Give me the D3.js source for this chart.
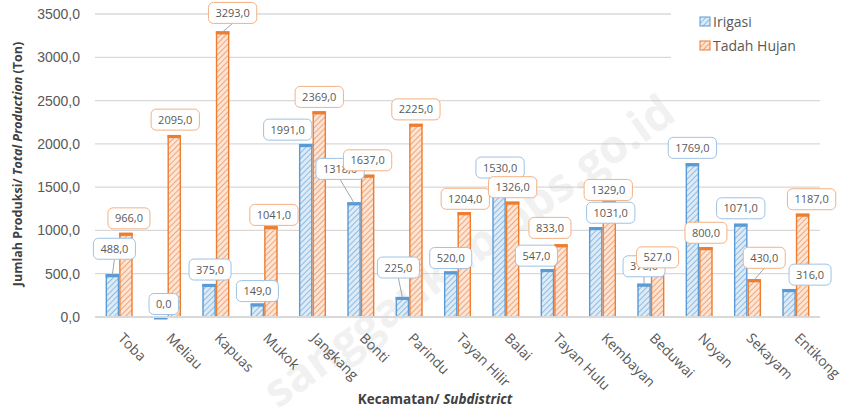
<!DOCTYPE html>
<html>
<head>
<meta charset="utf-8">
<script src="https://cdn.jsdelivr.net/npm/d3@7"></script>
<style>
  body { margin: 0; background: #fff; }
  svg { display: block; font-family: "Open Sans", sans-serif; }
</style>
</head>
<body>
<div id="chart"></div>
<script>
const categories = ["Toba", "Meliau", "Kapuas", "Mukok", "Jangkang", "Bonti", "Parindu",
  "Tayan Hilir", "Balai", "Tayan Hulu", "Kembayan", "Beduwai", "Noyan", "Sekayam", "Entikong"];
const irigasi = [488, 0, 375, 149, 1991, 1318, 225, 520, 1530, 547, 1031, 378, 1769, 1071, 316];
const tadahHujan = [966, 2095, 3293, 1041, 2369, 1637, 2225, 1204, 1326, 833, 1329, 527, 800, 430, 1187];
const seriesNames = ["Irigasi", "Tadah Hujan"];
const yTicks = [0, 500, 1000, 1500, 2000, 2500, 3000, 3500];

// callout nudges (dx, dy from the bar top), like the hand-placed Excel labels
const nudgeIrigasi = [[2, -26], [3, -13], [1, -15], [0, -13], [-18, -15], [-14, -34], [-4, -30],
  [0, -14], [1, -17], [-11, -14], [15, -15], [0, -18], [0, -16], [0, -16], [21, -15]];
const nudgeTadah = [[3, -15], [1, -16], [10, -19], [3, -12], [0, -15], [0, -15], [0, -15],
  [1, -14], [0, -15], [-11, -17], [-1, -12], [0, -14], [0, -15], [10, -22], [9, -15]];

const W = 841, H = 409;
const m = { top: 14, right: 21, bottom: 93, left: 95 };
const colors = ["#5B9BD5", "#ED7D31"];
const boxStroke = ["#9DC3E6", "#F4B183"];
const txt = "#595959";

const svg = d3.select("#chart").append("svg").attr("width", W).attr("height", H);

const defs = svg.append("defs");
const patBg = ["#DDEBF7", "#FCE4D6"];
colors.forEach((c, i) => {
  const p = defs.append("pattern")
    .attr("id", "hatch" + i)
    .attr("patternUnits", "userSpaceOnUse")
    .attr("width", 4).attr("height", 4)
    .attr("patternTransform", "rotate(45)");
  p.append("rect").attr("width", 4).attr("height", 4).attr("fill", patBg[i]);
  p.append("line").attr("x1", 0).attr("y1", 0).attr("x2", 0).attr("y2", 4)
    .attr("stroke", c).attr("stroke-width", 1.2);
});

const x0 = d3.scaleBand().domain(categories).range([m.left, W - m.right])
  .paddingInner(0.44).paddingOuter(0.22);
const x1 = d3.scaleBand().domain(seriesNames).range([0, x0.bandwidth()]);
const y = d3.scaleLinear().domain([0, 3500]).range([H - m.bottom + 1, m.top]);

// gridlines
svg.append("g").selectAll("line")
  .data(yTicks.slice(1))
  .join("line")
  .attr("x1", m.left).attr("x2", W - m.right)
  .attr("y1", d => y(d)).attr("y2", d => y(d))
  .attr("stroke", "#D9D9D9").attr("stroke-width", 1.3);

// y axis labels
const yAxis = d3.axisLeft(y).tickValues(yTicks).tickSize(0).tickPadding(15)
  .tickFormat(d => d3.format(".1f")(d).replace(".", ","));
svg.append("g").attr("transform", `translate(${m.left},0)`)
  .call(yAxis)
  .call(g => g.select(".domain").remove())
  .selectAll("text").attr("fill", txt).attr("font-size", 14);

// watermark
svg.append("text")
  .attr("transform", "translate(478,264) rotate(-36)")
  .attr("text-anchor", "middle")
  .attr("font-size", 46).attr("font-weight", "bold")
  .attr("fill", "#BBBBBB").attr("opacity", 0.2)
  .text("sanggaukab.bps.go.id");

// bars
const series = [irigasi, tadahHujan];
const nudges = [nudgeIrigasi, nudgeTadah];
const barData = [];
series.forEach((vals, s) => vals.forEach((v, i) => barData.push({ s, i, v, cat: categories[i] })));

const bars = svg.append("g");
bars.selectAll("rect")
  .data(barData)
  .join("rect")
  .attr("x", d => x0(d.cat) + x1(seriesNames[d.s]) + 0.7)
  .attr("y", d => y(d.v))
  .attr("width", x1.bandwidth() - 1.4)
  .attr("height", d => y(0) - y(d.v))
  .attr("fill", d => `url(#hatch${d.s})`)
  .attr("stroke", d => colors[d.s])
  .attr("stroke-width", 1.4);
bars.selectAll("line")
  .data(barData)
  .join("line")
  .attr("x1", d => x0(d.cat) + x1(seriesNames[d.s]))
  .attr("x2", d => x0(d.cat) + x1(seriesNames[d.s]) + x1.bandwidth())
  .attr("y1", d => y(d.v) + 1).attr("y2", d => y(d.v) + 1)
  .attr("stroke", d => colors[d.s]).attr("stroke-width", 3);

// x axis line
svg.append("line")
  .attr("x1", m.left).attr("x2", W - m.right)
  .attr("y1", y(0)).attr("y2", y(0))
  .attr("stroke", "#D9D9D9").attr("stroke-width", 2);

// x tick labels
svg.append("g").selectAll("text")
  .data(categories)
  .join("text")
  .attr("transform", d => `translate(${x0(d) + x0.bandwidth() / 2 - 2},${y(0) + 22}) rotate(45)`)
  .attr("fill", txt).attr("font-size", 14)
  .text(d => d);

// data label callouts
const lab = svg.append("g");
barData.forEach(d => {
  const bx = x0(d.cat) + x1(seriesNames[d.s]) + x1.bandwidth() / 2;
  const by = y(d.v);
  const [dx, dy] = nudges[d.s][d.i];
  const cx = bx + dx, cy = by + dy;
  const label = d3.format(".1f")(d.v).replace(".", ",");
  const g = lab.append("g");
  const t = g.append("text")
    .attr("x", cx).attr("y", cy + 4)
    .attr("text-anchor", "middle")
    .attr("fill", txt).attr("font-size", 11)
    .text(label);
  const tw = t.node().getComputedTextLength();
  const bw = tw + 14, bh = 21;
  if (by - (cy + bh / 2) > 7) {
    g.insert("line", "text")
      .attr("x1", cx).attr("y1", cy + bh / 2)
      .attr("x2", bx).attr("y2", by)
      .attr("stroke", "#A6A6A6").attr("stroke-width", 1);
  }
  g.insert("rect", "text")
    .attr("x", cx - bw / 2).attr("y", cy - bh / 2)
    .attr("width", bw).attr("height", bh)
    .attr("rx", 5)
    .attr("fill", "#fff")
    .attr("stroke", boxStroke[d.s]).attr("stroke-width", 1);
});

// legend (masks the top gridlines like the original)
svg.append("rect").attr("x", 671).attr("y", 0).attr("width", 160).attr("height", 70).attr("fill", "#fff");
const legend = svg.append("g").attr("transform", "translate(700,17)");
seriesNames.forEach((n, i) => {
  const row = legend.append("g").attr("transform", `translate(0,${i * 24})`);
  row.append("rect").attr("width", 10).attr("height", 9)
    .attr("fill", `url(#hatch${i})`).attr("stroke", colors[i]).attr("stroke-width", 1);
  row.append("text").attr("x", 13).attr("y", 9.5)
    .attr("fill", txt).attr("font-size", 14).text(n);
});

// axis titles
const yt = svg.append("text")
  .attr("transform", `translate(22,${m.top + 150}) rotate(-90)`)
  .attr("text-anchor", "middle")
  .attr("font-size", 12.5).attr("font-weight", "bold").attr("fill", "#404040");
yt.append("tspan").text("Jumlah Produksi/ ");
yt.append("tspan").attr("font-style", "italic").text("Total Production");
yt.append("tspan").text(" (Ton)");

const xt = svg.append("text")
  .attr("x", 435).attr("y", 404)
  .attr("text-anchor", "middle")
  .attr("font-size", 13.5).attr("font-weight", "bold").attr("fill", "#404040");
xt.append("tspan").text("Kecamatan/ ");
xt.append("tspan").attr("font-style", "italic").text("Subdistrict");
</script>
</body>
</html>
